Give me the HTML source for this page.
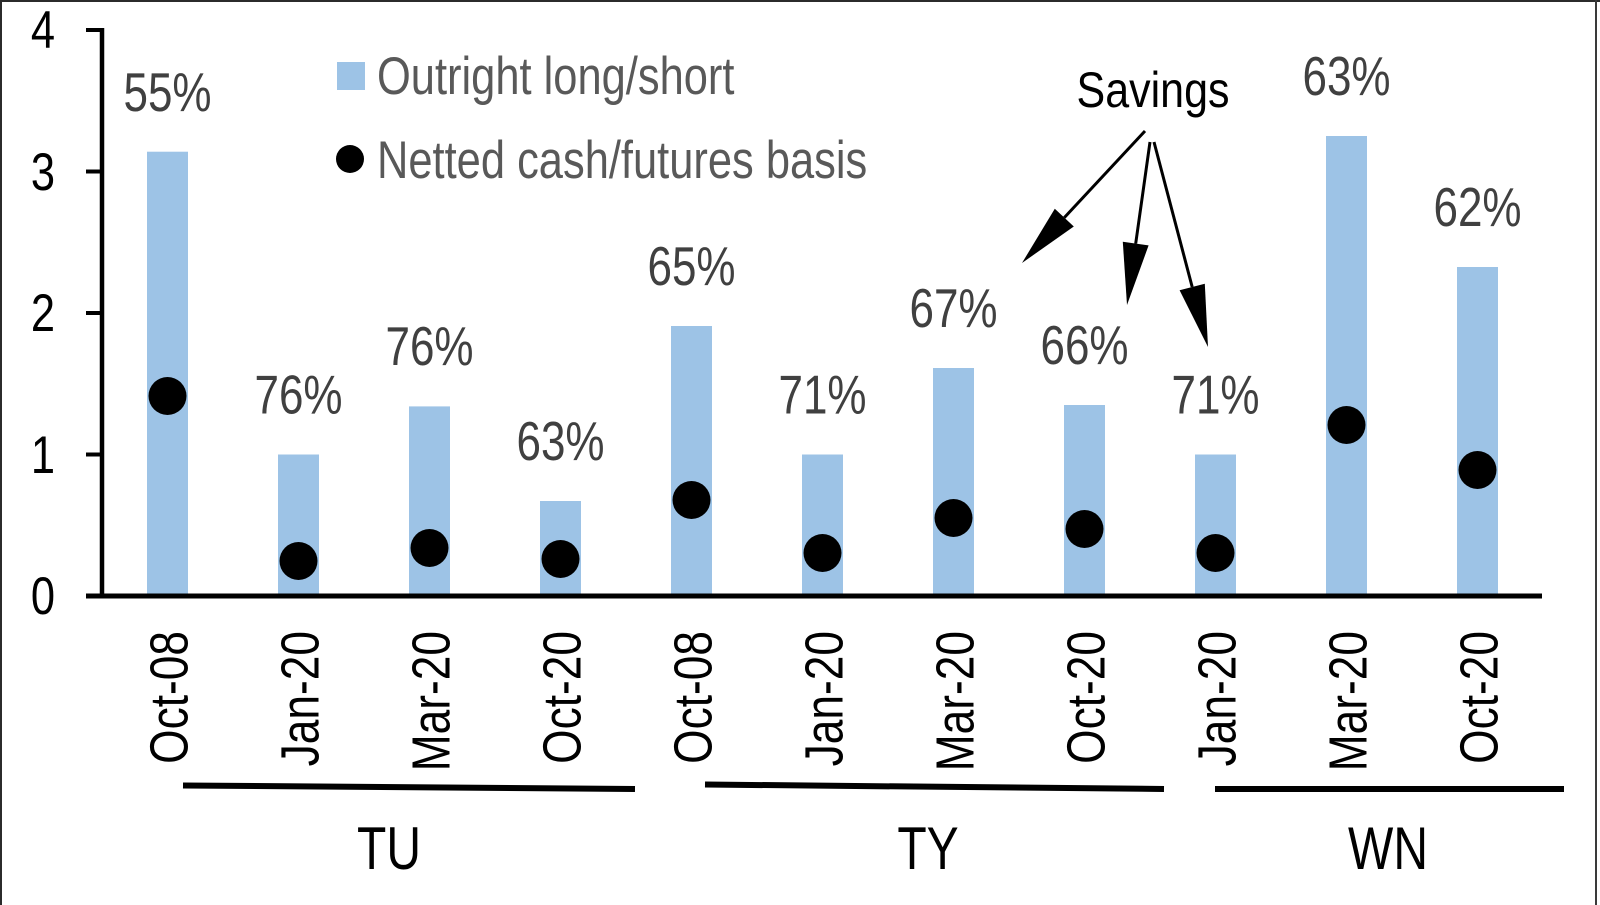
<!DOCTYPE html>
<html>
<head>
<meta charset="utf-8">
<style>
  html, body { margin: 0; padding: 0; background: #ffffff; }
  body { width: 1600px; height: 905px; overflow: hidden; }
  svg { display: block; }
  text { font-family: "Liberation Sans", Arial, sans-serif; }
</style>
</head>
<body>
<svg width="1600" height="905" viewBox="0 0 1600 905" xmlns="http://www.w3.org/2000/svg">
  <rect x="0" y="0" width="1600" height="905" fill="#ffffff"/>
  <!-- outer border -->
  <line x1="0" y1="1" x2="1600" y2="1" stroke="#2b2b2b" stroke-width="2"/>
  <line x1="1" y1="0" x2="1" y2="905" stroke="#2b2b2b" stroke-width="2"/>
  <line x1="1596" y1="0" x2="1596" y2="905" stroke="#3a3a3a" stroke-width="2"/>

  <!-- bars -->
  <g fill="#9dc3e6">
    <rect x="147" y="151.7" width="41" height="444.3"/>
    <rect x="278" y="454.5" width="41" height="141.5"/>
    <rect x="409" y="406.4" width="41" height="189.6"/>
    <rect x="540" y="501" width="41" height="95"/>
    <rect x="671" y="326" width="41" height="270"/>
    <rect x="802" y="454.5" width="41" height="141.5"/>
    <rect x="933" y="368" width="41" height="228"/>
    <rect x="1064" y="405" width="41" height="191"/>
    <rect x="1195" y="454.5" width="41" height="141.5"/>
    <rect x="1326" y="136" width="41" height="460"/>
    <rect x="1457" y="267" width="41" height="329"/>
  </g>

  <!-- dots -->
  <g fill="#000000">
    <circle cx="167.5" cy="396" r="19"/>
    <circle cx="298.5" cy="561" r="19"/>
    <circle cx="429.5" cy="548" r="19"/>
    <circle cx="560.5" cy="559" r="19"/>
    <circle cx="691.5" cy="500" r="19"/>
    <circle cx="822.5" cy="553" r="19"/>
    <circle cx="953.5" cy="518" r="19"/>
    <circle cx="1084.5" cy="529" r="19"/>
    <circle cx="1215.5" cy="553" r="19"/>
    <circle cx="1346.5" cy="425" r="19"/>
    <circle cx="1477.5" cy="470" r="19"/>
  </g>

  <!-- axes -->
  <line x1="102" y1="28" x2="102" y2="598" stroke="#000" stroke-width="4.5"/>
  <line x1="86" y1="596" x2="1542" y2="596" stroke="#000" stroke-width="5"/>
  <g stroke="#000" stroke-width="4">
    <line x1="86" y1="30" x2="102" y2="30"/>
    <line x1="86" y1="171.5" x2="102" y2="171.5"/>
    <line x1="86" y1="313" x2="102" y2="313"/>
    <line x1="86" y1="454.5" x2="102" y2="454.5"/>
  </g>

  <!-- y tick labels -->
  <g font-size="53" fill="#000" text-anchor="end">
    <text transform="translate(55,48) scale(0.82,1)">4</text>
    <text transform="translate(55,190) scale(0.82,1)">3</text>
    <text transform="translate(55,331) scale(0.82,1)">2</text>
    <text transform="translate(55,473) scale(0.82,1)">1</text>
    <text transform="translate(55,614) scale(0.82,1)">0</text>
  </g>

  <!-- percent labels -->
  <g font-size="55" fill="#404040" text-anchor="middle">
    <text transform="translate(167.5,111) scale(0.8,1)">55%</text>
    <text transform="translate(298.5,413.5) scale(0.8,1)">76%</text>
    <text transform="translate(429.5,365) scale(0.8,1)">76%</text>
    <text transform="translate(560.5,460) scale(0.8,1)">63%</text>
    <text transform="translate(691.5,285) scale(0.8,1)">65%</text>
    <text transform="translate(822.5,413.5) scale(0.8,1)">71%</text>
    <text transform="translate(953.5,327) scale(0.8,1)">67%</text>
    <text transform="translate(1084.5,364) scale(0.8,1)">66%</text>
    <text transform="translate(1215.5,413.5) scale(0.8,1)">71%</text>
    <text transform="translate(1346.5,95) scale(0.8,1)">63%</text>
    <text transform="translate(1477.5,226) scale(0.8,1)">62%</text>
  </g>

  <!-- category labels (rotated) -->
  <g font-size="54" fill="#000" text-anchor="end">
    <text transform="translate(187.5,631) rotate(-90) scale(0.82,1)">Oct-08</text>
    <text transform="translate(318.5,631) rotate(-90) scale(0.82,1)">Jan-20</text>
    <text transform="translate(449.5,631) rotate(-90) scale(0.82,1)">Mar-20</text>
    <text transform="translate(580.5,631) rotate(-90) scale(0.82,1)">Oct-20</text>
    <text transform="translate(711.5,631) rotate(-90) scale(0.82,1)">Oct-08</text>
    <text transform="translate(842.5,631) rotate(-90) scale(0.82,1)">Jan-20</text>
    <text transform="translate(973.5,631) rotate(-90) scale(0.82,1)">Mar-20</text>
    <text transform="translate(1104.5,631) rotate(-90) scale(0.82,1)">Oct-20</text>
    <text transform="translate(1235.5,631) rotate(-90) scale(0.82,1)">Jan-20</text>
    <text transform="translate(1366.5,631) rotate(-90) scale(0.82,1)">Mar-20</text>
    <text transform="translate(1497.5,631) rotate(-90) scale(0.82,1)">Oct-20</text>
  </g>

  <!-- group lines -->
  <g stroke="#000" stroke-width="6">
    <line x1="183" y1="785.5" x2="635" y2="789"/>
    <line x1="705" y1="784.5" x2="1164" y2="789"/>
    <line x1="1215" y1="789" x2="1564" y2="789"/>
  </g>

  <!-- group labels -->
  <g font-size="60" fill="#000" text-anchor="middle">
    <text transform="translate(389,869) scale(0.8,1)">TU</text>
    <text transform="translate(928,869) scale(0.8,1)">TY</text>
    <text transform="translate(1388,869) scale(0.8,1)">WN</text>
  </g>

  <!-- legend -->
  <rect x="337" y="62" width="28" height="28" fill="#9dc3e6"/>
  <text transform="translate(377,94) scale(0.82,1)" font-size="53" fill="#595959">Outright long/short</text>
  <circle cx="350" cy="159" r="14" fill="#000"/>
  <text transform="translate(377,178) scale(0.82,1)" font-size="53" fill="#595959">Netted cash/futures basis</text>

  <!-- Savings annotation -->
  <text transform="translate(1153,107) scale(0.86,1)" font-size="50" fill="#000" text-anchor="middle">Savings</text>
  <g stroke="#000" stroke-width="3" fill="none">
    <line x1="1145" y1="131" x2="1064.3" y2="217.6"/>
    <line x1="1150" y1="142" x2="1135.7" y2="243.6"/>
    <line x1="1154" y1="142" x2="1192.2" y2="287"/>
  </g>
  <g fill="#000">
    <polygon points="1022,263 1073.8,226.5 1054.8,208.7"/>
    <polygon points="1127,305 1122.8,241.8 1148.6,245.4"/>
    <polygon points="1208,347 1179.6,290.3 1204.8,283.7"/>
  </g>
</svg>
</body>
</html>
